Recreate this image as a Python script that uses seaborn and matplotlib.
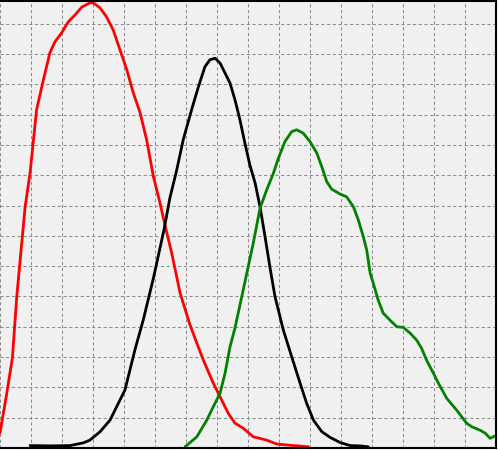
import numpy as np
import pandas as pd
import matplotlib
matplotlib.use("Agg")
import matplotlib.pyplot as plt
import seaborn as sns

# values
red_x = [0.00, 0.21, 0.40, 0.54, 0.68, 0.81, 0.97, 1.08, 1.18, 1.40, 1.61, 1.77, 1.99,
         2.20, 2.42, 2.64, 2.90, 3.01, 3.23, 3.44, 3.65, 3.87, 4.09, 4.30, 4.52, 4.73,
         4.95, 5.16, 5.32, 5.54, 5.81, 6.13, 6.35, 6.56, 6.88, 7.10, 7.36, 7.58, 7.85,
         8.17, 8.60, 8.93, 9.25, 9.95]
red_y = [0.50, 1.75, 2.97, 4.98, 6.53, 7.95, 9.08, 10.17, 11.16, 12.15, 13.04, 13.40, 13.70,
         14.06, 14.29, 14.55, 14.69, 14.69, 14.52, 14.22, 13.80, 13.14, 12.48, 11.72, 11.06, 10.17,
         8.95, 8.09, 7.36, 6.43, 5.11, 4.06, 3.46, 2.90, 2.14, 1.69, 1.15, 0.82, 0.65,
         0.37, 0.26, 0.13, 0.10, 0.04]

black_x = [0.97, 1.61, 2.26, 2.69, 2.90, 3.23, 3.55, 3.82, 4.03, 4.19, 4.35, 4.62, 4.95,
           5.30, 5.48, 5.70, 5.91, 6.18, 6.40, 6.61, 6.77, 6.94, 7.10, 7.26, 7.42, 7.58,
           7.74, 7.90, 8.06, 8.23, 8.39, 8.55, 8.71, 8.87, 9.14, 9.41, 9.68, 9.89, 10.11,
           10.38, 10.65, 10.97, 11.29, 11.61, 11.88]
black_y = [0.08, 0.07, 0.08, 0.17, 0.26, 0.54, 0.92, 1.48, 1.91, 2.57, 3.23, 4.22, 5.61,
           7.25, 8.25, 9.17, 10.17, 11.16, 11.92, 12.58, 12.81, 12.86, 12.70, 12.37, 12.04, 11.49,
           10.83, 10.06, 9.34, 8.74, 7.95, 6.97, 5.95, 5.00, 3.89, 3.01, 2.14, 1.48, 0.92,
           0.54, 0.35, 0.18, 0.08, 0.07, 0.04]

green_x = [5.97, 6.35, 6.67, 6.88, 7.10, 7.26, 7.42, 7.58, 7.81, 8.17, 8.39, 8.60, 8.82,
           8.98, 9.19, 9.41, 9.57, 9.78, 10.00, 10.22, 10.38, 10.54, 10.70, 10.97, 11.18,
           11.40, 11.56, 11.72, 11.83, 11.94, 12.04, 12.20, 12.36, 12.58, 12.80, 13.01, 13.23,
           13.44, 13.60, 13.76, 13.98, 14.14, 14.41, 14.73, 15.05, 15.22, 15.48, 15.65, 15.81, 15.97]
green_y = [0.04, 0.37, 0.92, 1.36, 1.81, 2.47, 3.34, 3.96, 5.05, 6.76, 7.92, 8.51, 9.07,
           9.56, 10.11, 10.44, 10.50, 10.39, 10.11, 9.73, 9.28, 8.79, 8.54, 8.38, 8.29,
           7.96, 7.52, 6.97, 6.53, 5.77, 5.44, 4.88, 4.45, 4.22, 4.00, 3.98, 3.79,
           3.56, 3.29, 2.90, 2.47, 2.14, 1.64, 1.25, 0.82, 0.70, 0.59, 0.49, 0.32, 0.40]

sns.set_style("white")

fig = plt.figure(figsize=(5, 4.5), dpi=100)
ax = fig.add_axes([0, 2 / 450, 496 / 500, 447 / 450])
ax.set_facecolor("#f0f0f0")
fig.patch.set_facecolor("white")

sns.lineplot(x=red_x, y=red_y, color="#ff0000", linewidth=2, sort=False, ax=ax)
sns.lineplot(x=black_x, y=black_y, color="black", linewidth=2, sort=False, ax=ax)
sns.lineplot(x=green_x, y=green_y, color="#008000", linewidth=2, sort=False, ax=ax)

ax.set_xlim(0, 16)
ax.set_ylim(0, 14.75)
ax.set_xticks(np.arange(0, 17, 1))
ax.set_yticks(np.arange(0, 15, 1))
ax.grid(True, color="#8c8c8c", linestyle=(0, (3, 2.5)), linewidth=0.75)
ax.tick_params(length=0, labelbottom=False, labelleft=False)
for side in ["top", "right", "bottom"]:
    ax.spines[side].set_color("black")
    ax.spines[side].set_linewidth(1.5)
ax.spines["left"].set_visible(False)

fig.savefig("out.png", dpi=100)
